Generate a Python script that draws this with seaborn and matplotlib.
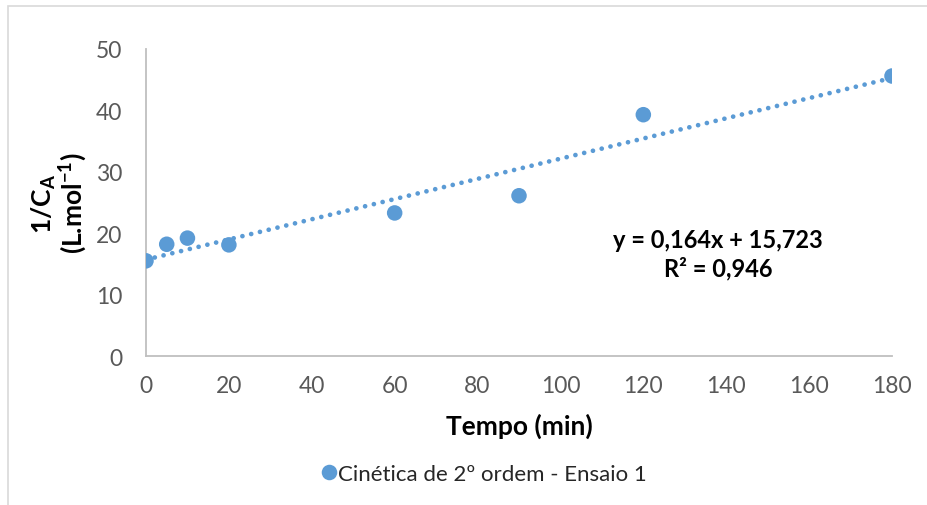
import numpy as np
import pandas as pd
import matplotlib
matplotlib.use("Agg")
import matplotlib.pyplot as plt
import seaborn as sns
from matplotlib.patches import Rectangle

# data
tempo = [0, 5, 10, 20, 60, 90, 120, 180]
inv_ca = [15.5, 18.2, 19.2, 18.1, 23.3, 26.1, 39.3, 45.6]
serie = "Cinética de 2º ordem - Ensaio 1"
x_ticks = [0, 20, 40, 60, 80, 100, 120, 140, 160, 180]
y_ticks = [0, 10, 20, 30, 40, 50]
eq_text = "y = 0,164x + 15,723\nR² = 0,946"

sns.set_style("white")
plt.rcParams['font.family'] = ['Lato', 'DejaVu Sans']
plt.rcParams['mathtext.fontset'] = 'custom'
plt.rcParams['mathtext.rm'] = 'Lato'
plt.rcParams['mathtext.bf'] = 'Lato:bold'

blue = "#5B9BD5"
grey_txt = "#595959"
grey_line = "#BFBFBF"

df = pd.DataFrame({"Tempo": tempo, "InvCA": inv_ca, "serie": serie})

fig = plt.figure(figsize=(9.28, 5.06), dpi=100)
ax = fig.add_axes([146 / 928, 1 - 357 / 506, 746 / 928, 307 / 506])

# outer chart border (cut off on right and bottom like the reference)
fig.patches.append(Rectangle((8 / 928, -0.2), 1.2, 1.2 - 7 / 506,
                             transform=fig.transFigure, fill=False,
                             edgecolor="#D9D9D9", linewidth=1.2))

# linear trendline
sns.regplot(data=df, x="Tempo", y="InvCA", ax=ax, scatter=False, ci=None,
            truncate=True,
            line_kws=dict(color=blue, linewidth=3.4, linestyle=(0, (0.01, 1.9)),
                          dash_capstyle="round"))

sns.scatterplot(data=df, x="Tempo", y="InvCA", hue="serie", palette=[blue],
                s=125, edgecolor=blue, linewidth=0, ax=ax, zorder=3, legend=True)

ax.set_xlim(0, 180)
ax.set_ylim(0, 50)
ax.set_xticks(x_ticks)
ax.set_yticks(y_ticks)
ax.tick_params(axis="both", length=0, labelsize=16.5, labelcolor=grey_txt)
ax.tick_params(axis="y", pad=17)
ax.tick_params(axis="x", pad=14)

for side in ["top", "right"]:
    ax.spines[side].set_visible(False)
for side in ["left", "bottom"]:
    ax.spines[side].set_color(grey_line)
    ax.spines[side].set_linewidth(1.3)

ax.set_xlabel("Tempo (min)", fontsize=19, fontweight="bold", color="black", labelpad=12)
ax.set_ylabel("1/C$_\\mathbf{A}$\n(L.mol$^{\\mathbf{-1}}$)", fontsize=19,
              fontweight="bold", color="black", labelpad=5, linespacing=0.95)

fig.text(718 / 928, 1 - 255 / 506, eq_text, ha="center", va="center",
         fontsize=17, fontweight="bold", color="black", linespacing=1.25)

handles, labels = ax.get_legend_handles_labels()
ax.get_legend().remove()
fig.legend(handles, labels, loc="center", bbox_to_anchor=(482 / 928, 1 - 475 / 506),
           frameon=False, fontsize=16, handletextpad=-0.1, markerscale=1.0,
           handlelength=1.0)

fig.savefig("out.png", dpi=100)
